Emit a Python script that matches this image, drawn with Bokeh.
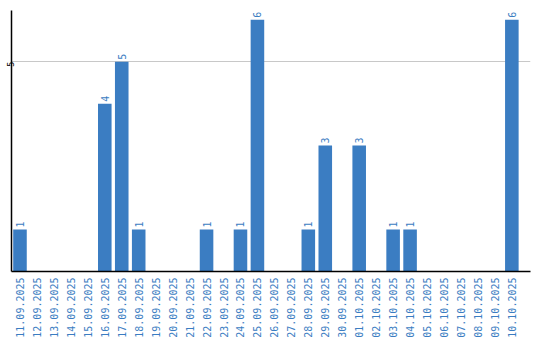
import math
from bokeh.plotting import figure
from bokeh.models import ColumnDataSource, Range1d, FixedTicker
from bokeh.core.properties import value
from bokeh.embed import file_html
from bokeh.resources import INLINE

dates = ["11.09.2025", "12.09.2025", "13.09.2025", "14.09.2025", "15.09.2025",
         "16.09.2025", "17.09.2025", "18.09.2025", "19.09.2025", "20.09.2025",
         "21.09.2025", "22.09.2025", "23.09.2025", "24.09.2025", "25.09.2025",
         "26.09.2025", "27.09.2025", "28.09.2025", "29.09.2025", "30.09.2025",
         "01.10.2025", "02.10.2025", "03.10.2025", "04.10.2025", "05.10.2025",
         "06.10.2025", "07.10.2025", "08.10.2025", "09.10.2025", "10.10.2025"]
counts = [1, 0, 0, 0, 0, 4, 5, 1, 0, 0,
          0, 1, 0, 1, 6, 0, 0, 1, 3, 0,
          3, 0, 1, 1, 0, 0, 0, 0, 0, 6]
y_ticks = [5]

BLUE = "#3b7dc2"

idx = list(range(len(dates)))
src = ColumnDataSource(dict(x=idx, v=counts))
nz = [i for i, c in enumerate(counts) if c > 0]
lab = ColumnDataSource(dict(x=nz, v=[counts[i] for i in nz],
                            t=[str(counts[i]) for i in nz]))

p = figure(width=540, height=340, x_range=Range1d(-0.5, len(dates) + 0.1),
           y_range=Range1d(0, 6.22), output_backend="svg", toolbar_location=None,
           min_border_left=0, min_border_right=10, min_border_top=10, min_border_bottom=0)
p.outline_line_color = None
p.background_fill_color = "white"
p.border_fill_color = "white"

p.vbar(x="x", top="v", width=0.8, source=src, fill_color=BLUE, line_color=None)
p.text(x="x", y="v", text="t", source=lab, angle=math.pi / 2, y_offset=-2,
       text_align="left", text_baseline="middle", text_color=BLUE,
       text_font=value("DejaVu Sans Mono"), text_font_size="10px")

p.xgrid.visible = False
p.ygrid.ticker = FixedTicker(ticks=y_ticks)
p.ygrid.grid_line_color = "#c8c8c8"
p.ygrid.grid_line_width = 1

p.yaxis.ticker = FixedTicker(ticks=y_ticks)
p.yaxis.major_label_orientation = math.pi / 2
p.yaxis.major_label_text_font_size = "8px"
p.yaxis.major_label_text_color = "black"
p.yaxis.major_label_text_font = "DejaVu Sans"
p.yaxis.major_tick_line_color = None
p.yaxis.minor_tick_line_color = None
p.yaxis.major_tick_out = 0
p.yaxis.major_tick_in = 0
p.yaxis.major_label_standoff = 1
p.yaxis.axis_line_color = "black"
p.yaxis.axis_line_width = 1.5

p.xaxis.ticker = FixedTicker(ticks=idx)
p.xaxis.major_label_overrides = {i: d for i, d in zip(idx, dates)}
p.xaxis.major_label_orientation = math.pi / 2
p.xaxis.major_label_text_font_size = "10px"
p.xaxis.major_label_text_font = "DejaVu Sans Mono"
p.xaxis.major_label_text_color = BLUE
p.xaxis.major_tick_line_color = None
p.xaxis.minor_tick_line_color = None
p.xaxis.major_tick_out = 0
p.xaxis.major_tick_in = 0
p.xaxis.major_label_standoff = 6
p.xaxis.axis_line_color = "black"
p.xaxis.axis_line_width = 1.5

open("out.html", "w").write(file_html(p, INLINE))
